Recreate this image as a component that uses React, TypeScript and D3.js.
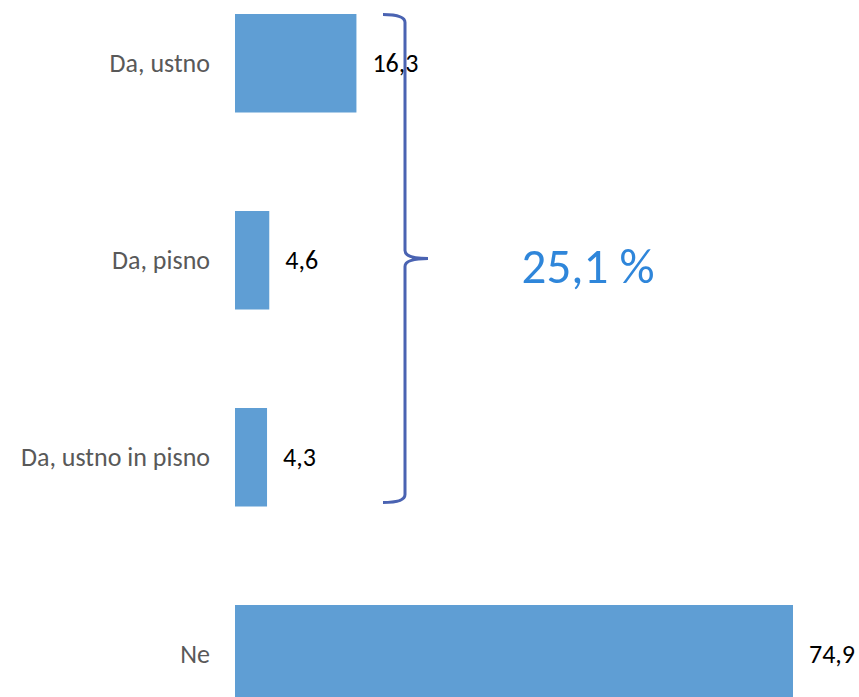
import React from 'react';
import * as d3 from 'd3';

const categories = ['Da, ustno', 'Da, pisno', 'Da, ustno in pisno', 'Ne'];
const values = [16.3, 4.6, 4.3, 74.9];
const valueLabels = ['16,3', '4,6', '4,3', '74,9'];
const braceLabel = '25,1 %';

const width = 859;
const height = 697;

export default function App() {
  const x = d3.scaleLinear().domain([0, 74.9]).range([235, 793]);
  const y = d3
    .scaleBand<string>()
    .domain(categories)
    .range([-35.25, 752.75])
    .paddingInner(0.5)
    .paddingOuter(0.25);

  // Brace spanning the three "Da" bars
  const top = (y(categories[0]) || 0) + 0.5;
  const bottom = (y(categories[2]) || 0) + y.bandwidth() - 4;
  const mid = (top + bottom) / 2;
  const bx = 405;
  const bLeft = 383;
  const bTip = 428;
  const r = 8;
  const p = d3.path();
  p.moveTo(bLeft, top);
  p.quadraticCurveTo(bx, top, bx, top + r);
  p.lineTo(bx, mid - r);
  p.quadraticCurveTo(bx, mid, bTip, mid);
  p.moveTo(bTip, mid);
  p.quadraticCurveTo(bx, mid, bx, mid + r);
  p.lineTo(bx, bottom - r);
  p.quadraticCurveTo(bx, bottom, bLeft, bottom);

  const font = "Carlito, 'Open Sans', 'Noto Sans', sans-serif";

  return (
    <svg
      width={width}
      height={height}
      style={{ position: 'absolute', left: 0, top: 0, background: '#fff' }}
      fontFamily={font}
    >
      {categories.map((c, i) => {
        const cy = (y(c) || 0) + y.bandwidth() / 2;
        return (
          <g key={c}>
            <rect
              x={x(0)}
              y={y(c)}
              width={x(values[i]) - x(0)}
              height={y.bandwidth()}
              fill="#5f9ed4"
            />
            <text
              x={x(0) - 25}
              y={cy}
              textAnchor="end"
              dominantBaseline="central"
              fontSize={26}
              fill="#595959"
            >
              {c}
            </text>
            <text
              x={x(values[i]) + 16}
              y={cy}
              dominantBaseline="central"
              fontSize={26}
              fill="#000"
            >
              {valueLabels[i]}
            </text>
          </g>
        );
      })}
      <path d={p.toString()} fill="none" stroke="#4a63b2" strokeWidth={3} />
      <text
        x={588}
        y={mid + 7}
        textAnchor="middle"
        dominantBaseline="central"
        fontSize={49}
        fill="#2f86da"
      >
        {braceLabel}
      </text>
    </svg>
  );
}
